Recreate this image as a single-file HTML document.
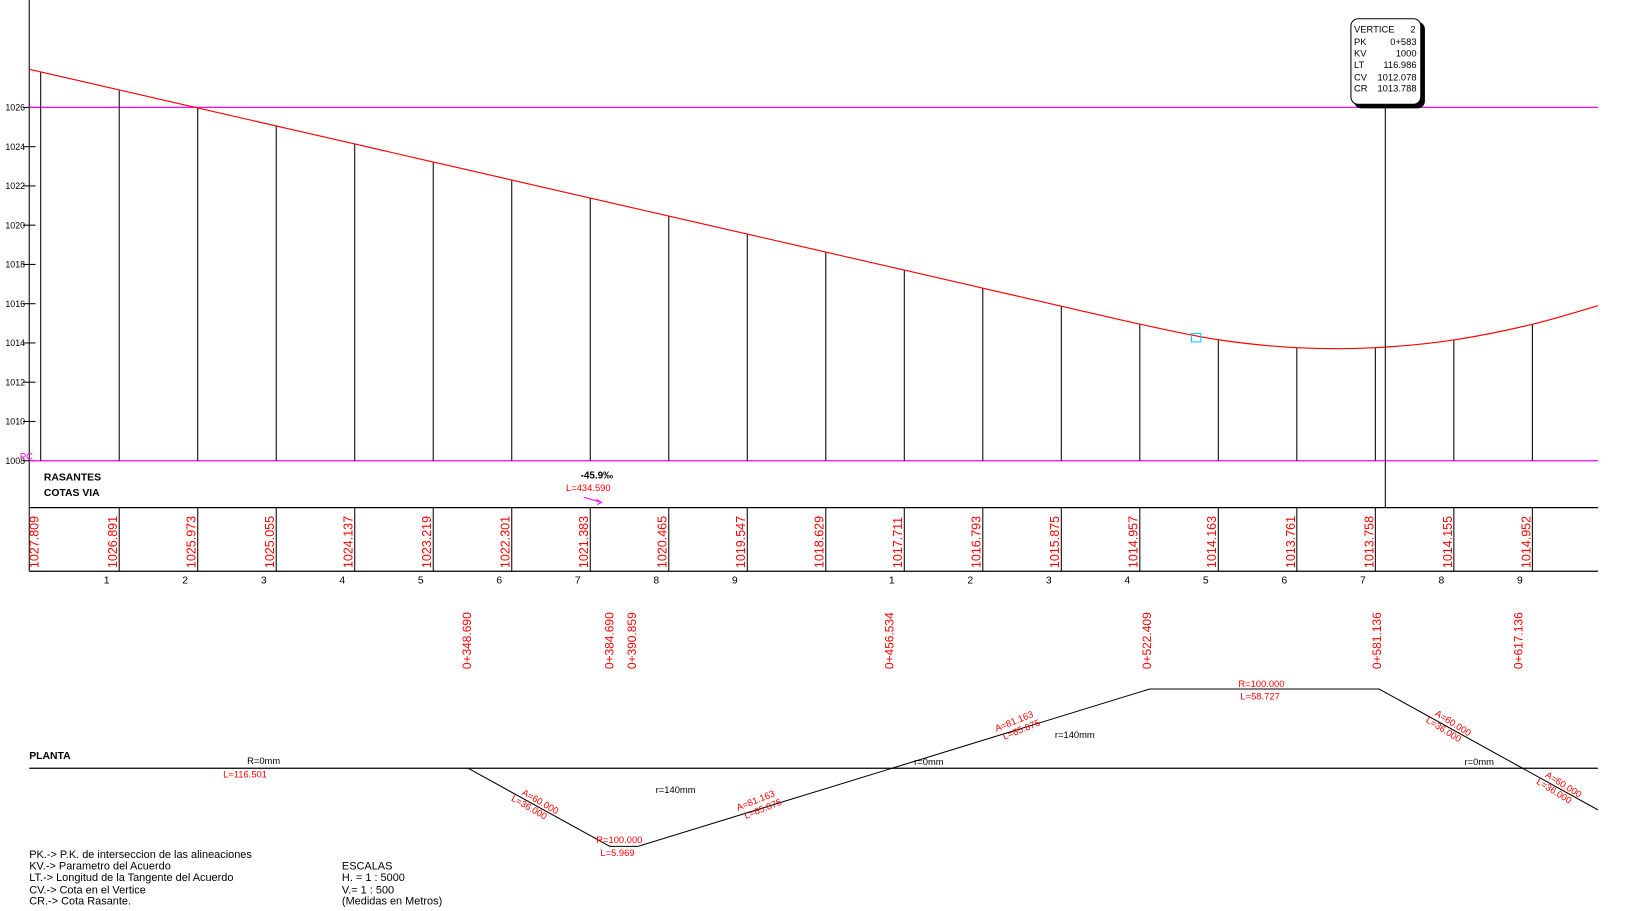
<!DOCTYPE html>
<html><head><meta charset="utf-8"><style>
html,body{margin:0;padding:0;background:#fff;width:1635px;height:911px;overflow:hidden}
svg{display:block;font-family:"Liberation Sans",sans-serif}
.s{font-size:9px}
.r{fill:#f00}
</style></head><body>
<svg id="c" width="1635" height="911" viewBox="0 0 1568.5 874">
<g id="grid"></g>
<g id="plan">
<line x1="28" y1="737" x2="1533" y2="737" stroke="#000" stroke-width="1.2"/>
<polyline points="449,737 585,812 612,812 1103,661 1323,661 1533,777" fill="none" stroke="#000" stroke-width="1"/>
<text x="28" y="728" font-size="10" font-weight="bold">PLANTA</text>
<text x="237" y="733" class="s">R=0mm</text>
<text x="214" y="746" class="s r">L=116.501</text>
<g transform="translate(500,762) rotate(30)" class="s r"><text x="0" y="0">A=60.000</text><text x="-6" y="10">L=36.000</text></g>
<text x="629" y="761" class="s">r=140mm</text>
<text x="572" y="809" class="s r">R=100.000</text>
<text x="576" y="821" class="s r">L=5.969</text>
<g transform="translate(708,778) rotate(-22)" class="s r"><text x="0" y="0">A=81.163</text><text x="4" y="10">L=65.875</text></g>
<text x="877" y="734" class="s">r=0mm</text>
<g transform="translate(956,702) rotate(-22)" class="s r"><text x="0" y="0">A=81.163</text><text x="4" y="10">L=65.875</text></g>
<text x="1012" y="708" class="s">r=140mm</text>
<text x="1188" y="659" class="s r">R=100.000</text>
<text x="1190" y="671" class="s r">L=58.727</text>
<g transform="translate(1376,686) rotate(32)" class="s r"><text x="0" y="0">A=60.000</text><text x="-4" y="10">L=36.000</text></g>
<text x="1405" y="734" class="s">r=0mm</text>
<g transform="translate(1482,745) rotate(32)" class="s r"><text x="0" y="0">A=60.000</text><text x="-4" y="10">L=36.000</text></g>
</g>
<g font-size="10.5">
<text x="28" y="823">PK.-&gt; P.K. de interseccion de las alineaciones</text>
<text x="28" y="834">KV.-&gt; Parametro del Acuerdo</text>
<text x="28" y="845">LT.-&gt; Longitud de la Tangente del Acuerdo</text>
<text x="28" y="857">CV.-&gt; Cota en el Vertice</text>
<text x="28" y="868">CR.-&gt; Cota Rasante.</text>
<text x="328" y="834">ESCALAS</text>
<text x="328" y="845">H. = 1 : 5000</text>
<text x="328" y="857">V.= 1 :  500</text>
<text x="328" y="868">(Medidas en Metros)</text>
</g>
<g>
<rect x="1299" y="21" width="68" height="83" rx="7" fill="#000"/>
<rect x="1296" y="18" width="67" height="82" rx="7" fill="#fff" stroke="#000"/>
<g font-size="9"><text x="1299" y="31">VERTICE</text><text x="1353" y="31">2</text>
<text x="1299" y="43">PK</text><text x="1359" y="43" text-anchor="end">0+583</text>
<text x="1299" y="54">KV</text><text x="1359" y="54" text-anchor="end">1000</text>
<text x="1299" y="65">LT</text><text x="1359" y="65" text-anchor="end">116.986</text>
<text x="1299" y="77">CV</text><text x="1359" y="77" text-anchor="end">1012.078</text>
<text x="1299" y="88">CR</text><text x="1359" y="88" text-anchor="end">1013.788</text></g>
</g>
</svg>
<script>
const yTicks=[1008,1010,1012,1014,1016,1018,1020,1022,1024,1026];
const stations=[0,1,2,3,4,5,6,7,8,9,10,11,12,13,14,15,16,17,18,19];
const elevations=[1027.809,1026.891,1025.973,1025.055,1024.137,1023.219,1022.301,1021.383,1020.465,1019.547,1018.629,1017.711,1016.793,1015.875,1014.957,1014.163,1013.761,1013.758,1014.155,1014.952];
const stationLabels=["","1","2","3","4","5","6","7","8","9","","1","2","3","4","5","6","7","8","9"];
const pkLabels=["0+348.690","0+384.690","0+390.859","0+456.534","0+522.409","0+581.136","0+617.136"];
const pkPositions=[5.43,7.24,7.53,10.81,14.09,17.02,18.82];
const startElev=1027.94, endElev=1015.9;
const NS="http://www.w3.org/2000/svg";
const g=document.getElementById('grid');
const X=i=>39+i*75.32;
const Y=v=>442-(v-1008)*18.83;
function el(t,a,p){const e=document.createElementNS(NS,t);for(const k in a)e.setAttribute(k,a[k]);(p||g).appendChild(e);return e;}
let ax=el('line',{x1:28,y1:0,x2:28,y2:548,stroke:'#000'});


yTicks.forEach(v=>{
 let t=el('line',{x1:22,y1:Y(v),x2:34,y2:Y(v),stroke:'#000'});
 
 
 let l=el('text',{x:24,y:Y(v)+3,'text-anchor':'end','font-size':'8.5'});l.textContent=v;
 
 
});
[1026,1008].forEach(v=>{
 let m=el('line',{x1:28,y1:Y(v),x2:1533,y2:Y(v),stroke:'#f0f','stroke-width':1.2});
 
 
});
stations.forEach((s,i)=>{
 let ln=el('line',{x1:X(s),y1:Y(elevations[i]),x2:X(s),y2:442,stroke:'#000'});
 
 
 if(i>0){let sp=el('line',{x1:X(s),y1:487,x2:X(s),y2:548,stroke:'#000'});
 
 }
 let tx=el('text',{transform:`translate(${X(s)-2},545) rotate(-90)`,class:'r','font-size':'12'});
 tx.textContent=elevations[i].toFixed(3);
 
 
 if(stationLabels[i]){let sl=el('text',{x:X(s)-12,y:560,'font-size':'10','text-anchor':'middle'});sl.textContent=stationLabels[i];
 
 }
});
let pts=[[28,Y(startElev)]].concat(stations.map((s,i)=>[X(s),Y(elevations[i])])).concat([[1533,Y(endElev)]]);
let d='M'+pts[0].join(',');
for(let i=0;i<pts.length-1;i++){
 const p0=pts[Math.max(0,i-1)],p1=pts[i],p2=pts[i+1],p3=pts[Math.min(pts.length-1,i+2)];
 const c1=[p1[0]+(p2[0]-p0[0])/6,p1[1]+(p2[1]-p0[1])/6],c2=[p2[0]-(p3[0]-p1[0])/6,p2[1]-(p3[1]-p1[1])/6];
 d+=` C${c1.join(',')} ${c2.join(',')} ${p2.join(',')}`;
}
let cv=el('path',{d:d,fill:'none',stroke:'#f00','stroke-width':1.1});


let vl=el('line',{x1:1329,y1:103,x2:1329,y2:487,stroke:'#000'});


[487,548].forEach(y=>{let t=el('line',{x1:28,y1:y,x2:1533,y2:y,stroke:'#000','stroke-width':1.2});
 
 });
pkLabels.forEach((p,i)=>{let t=el('text',{transform:`translate(${X(pkPositions[i])+4},642) rotate(-90)`,class:'r','font-size':'11.5'});t.textContent=p;
 
 });
let a=el('text',{x:42,y:461,'font-size':'10','font-weight':'bold'});a.textContent='RASANTES';


let b=el('text',{x:42,y:476,'font-size':'10','font-weight':'bold'});b.textContent='COTAS VIA';


let gr=el('text',{x:557,y:459,'font-size':'9.5','font-weight':'bold'});gr.textContent='-45.9‰';


let gl=el('text',{x:543,y:471,class:'r','font-size':'9'});gl.textContent='L=434.590';


let ar=el('polyline',{points:'560,477 577,482 572,479 577,482 573,484',fill:'none',stroke:'#f0f'});


let pc=el('text',{x:19,y:441,fill:'#f0f','font-size':'9'});pc.textContent='PC';


let cy=el('rect',{x:1143,y:320,width:9,height:8,fill:'none',stroke:'#0cf'});


</script>
</body></html>
